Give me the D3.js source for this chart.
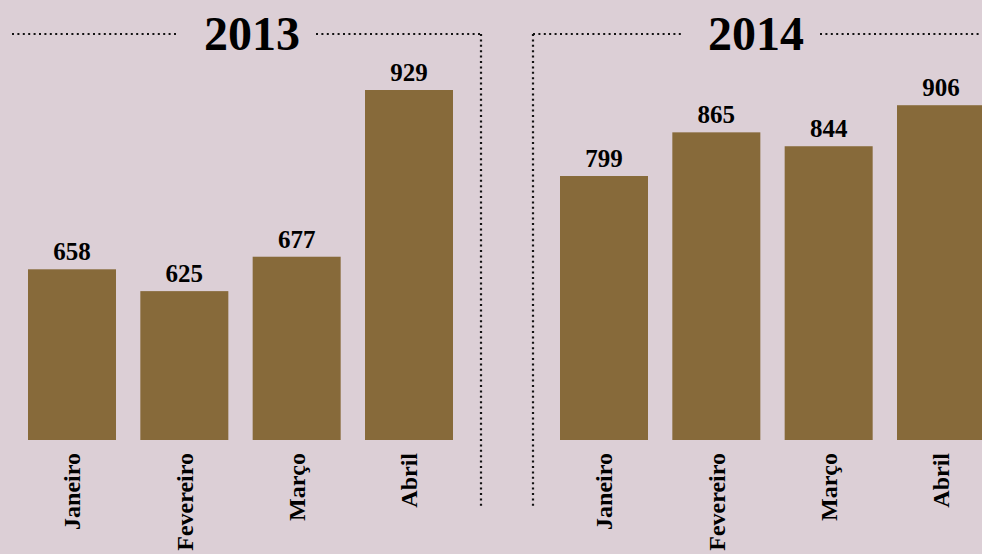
<!DOCTYPE html>
<html>
<head>
<meta charset="utf-8">
<script src="https://cdn.jsdelivr.net/npm/d3@7"></script>
<style>
  html, body { margin: 0; padding: 0; background: #dccfd6; }
  svg { display: block; }
  text { font-family: "Liberation Serif", "DejaVu Serif", serif; font-weight: bold; fill: #000; }
</style>
</head>
<body>
<svg id="chart"></svg>
<script>
const months = ['Janeiro', 'Fevereiro', 'Março', 'Abril'];
const years = ['2013', '2014'];
const values2013 = [658, 625, 677, 929];
const values2014 = [799, 865, 844, 906];

const width = 982, height = 554;
const baseY = 440;
const svg = d3.select('#chart').attr('width', width).attr('height', height);

// shared value scale (bars do not start at zero in the original)
const y = d3.scaleLinear().domain([400, 929]).range([baseY, 90]);

const panels = [
  {year: years[0], values: values2013, x0: 28, x1: 453, titleX: 252, side: 'right', lineX: 481, left: 12, right: 481},
  {year: years[1], values: values2014, x0: 560, x1: 985, titleX: 756, side: 'left', lineX: 533, left: 533, right: 990}
];

const dotted = (sel) => sel.attr('stroke', '#111').attr('stroke-width', 2.2)
  .attr('stroke-dasharray', '2,3.4').attr('fill', 'none');

panels.forEach((p) => {
  const g = svg.append('g');
  const x = d3.scaleBand().domain(months).range([p.x0, p.x1]).paddingInner(0.2166).paddingOuter(0);
  const data = months.map((m, i) => ({month: m, value: p.values[i]}));

  g.selectAll('.bar')
    .data(data).enter()
    .append('rect')
    .attr('class', 'bar')
    .attr('x', (d) => x(d.month))
    .attr('width', x.bandwidth())
    .attr('y', (d) => y(d.value))
    .attr('height', (d) => baseY - y(d.value))
    .attr('fill', '#876a3a');

  g.selectAll('.val')
    .data(data).enter()
    .append('text')
    .attr('class', 'val')
    .attr('x', (d) => x(d.month) + x.bandwidth() / 2)
    .attr('y', (d) => y(d.value) - 9)
    .attr('text-anchor', 'middle')
    .style('font-size', '25px')
    .text((d) => d.value);

  g.selectAll('.month')
    .data(data).enter()
    .append('text')
    .attr('class', 'month')
    .attr('transform', (d) => `translate(${x(d.month) + x.bandwidth() / 2},453) rotate(-90)`)
    .attr('text-anchor', 'end')
    .attr('dy', '0.35em')
    .style('font-size', '24px')
    .text((d) => d.month);

  // title with dotted rules
  const title = g.append('text')
    .attr('x', p.titleX)
    .attr('y', 50)
    .attr('text-anchor', 'middle')
    .style('font-size', '48px')
    .text(p.year);
  const tw = title.node().getComputedTextLength();
  const ruleY = 34;
  g.append('line').call(dotted)
    .attr('x1', p.left).attr('x2', p.titleX - tw / 2 - 26)
    .attr('y1', ruleY).attr('y2', ruleY);
  g.append('line').call(dotted)
    .attr('x1', p.titleX + tw / 2 + 16).attr('x2', p.right)
    .attr('y1', ruleY).attr('y2', ruleY);
  g.append('line').call(dotted)
    .attr('x1', p.lineX).attr('x2', p.lineX)
    .attr('y1', ruleY).attr('y2', 507);
});
</script>
</body>
</html>
